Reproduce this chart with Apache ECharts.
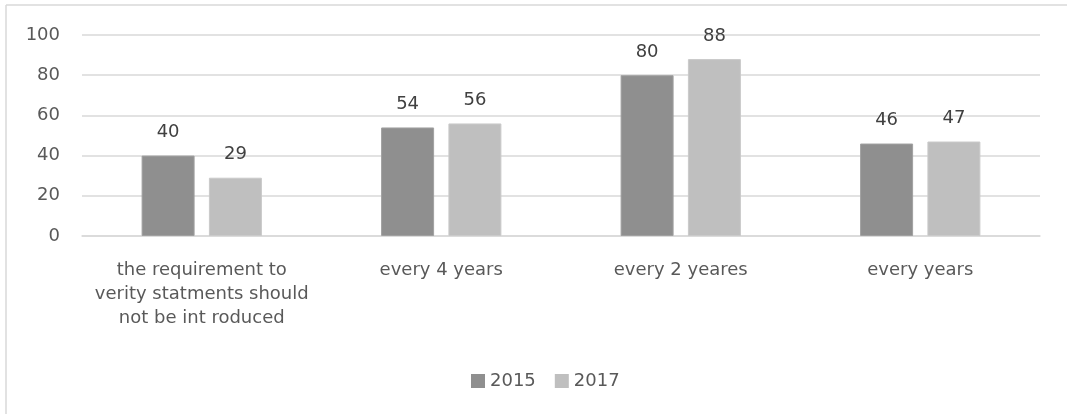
<!DOCTYPE html>
<html>
<head>
<meta charset="utf-8">
<script src="https://cdn.jsdelivr.net/npm/echarts@6/dist/echarts.min.js"></script>
<style>
  html, body { margin: 0; padding: 0; background: #fff; overflow: hidden; }
  #chart { width: 1067px; height: 414px; }
</style>
</head>
<body>
<div id="chart"></div>
<script>
// Survey answers on how often statements should be verified
const categories = [
  'the requirement to\nverity statments should\nnot be int roduced',
  'every 4 years',
  'every 2 yeares',
  'every years'
];
const values2015 = [40, 54, 80, 46];
const values2017 = [29, 56, 88, 47];
const seriesNames = ['2015', '2017'];
const yTicks = [0, 20, 40, 60, 80, 100];

const FONT = 'DejaVu Sans';
const TEXT = '#595959';
const FRAME = '#d9d9d9';

const chart = echarts.init(document.getElementById('chart'));

const labelStyle = {
  show: true,
  position: 'top',
  distance: 14,
  color: '#404040',
  fontFamily: FONT,
  fontSize: 18
};

chart.setOption({
  animation: false,
  textStyle: { fontFamily: FONT },
  // chart area frame: only its top and left edges fall inside the canvas
  graphic: [
    {
      type: 'line',
      shape: { x1: 6, y1: 5, x2: 1067, y2: 5 },
      style: { stroke: FRAME, lineWidth: 1.5 },
      silent: true
    },
    {
      type: 'line',
      shape: { x1: 6, y1: 5, x2: 6, y2: 414 },
      style: { stroke: FRAME, lineWidth: 1.5 },
      silent: true
    }
  ],
  grid: { left: 82, right: 27, top: 35, bottom: 178 },
  legend: {
    data: seriesNames,
    top: 367,
    left: 466,
    icon: 'rect',
    itemWidth: 14,
    itemHeight: 14,
    itemGap: 19,
    itemStyle: { borderWidth: 0 },
    textStyle: { color: TEXT, fontFamily: FONT, fontSize: 18 }
  },
  xAxis: {
    type: 'category',
    data: categories,
    axisLine: { show: true, lineStyle: { color: FRAME, width: 1.5 } },
    axisTick: { show: false },
    axisLabel: {
      color: TEXT,
      fontFamily: FONT,
      fontSize: 18,
      lineHeight: 24,
      margin: 22,
      interval: 0
    }
  },
  yAxis: {
    type: 'value',
    min: yTicks[0],
    max: yTicks[yTicks.length - 1],
    interval: 20,
    axisLine: { show: false },
    axisTick: { show: false },
    splitLine: { lineStyle: { color: FRAME, width: 1.5 } },
    axisLabel: { color: TEXT, fontFamily: FONT, fontSize: 18, margin: 22 }
  },
  series: [
    {
      name: seriesNames[0],
      type: 'bar',
      data: values2015,
      barWidth: 53,
      barGap: '27%',
      itemStyle: { color: '#8f8f8f', borderColor: '#a0a0a0', borderWidth: 1 },
      label: labelStyle
    },
    {
      name: seriesNames[1],
      type: 'bar',
      data: values2017,
      barWidth: 53,
      itemStyle: { color: '#bfbfbf', borderColor: '#cacaca', borderWidth: 1 },
      label: labelStyle
    }
  ]
});
</script>
</body>
</html>
